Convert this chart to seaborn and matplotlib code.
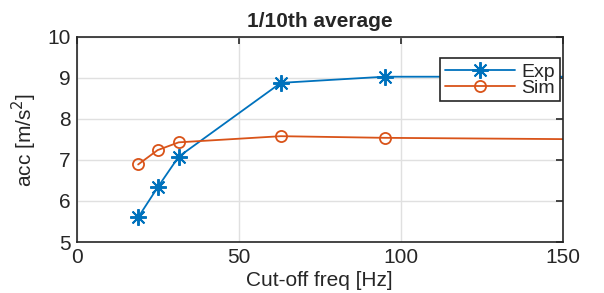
import matplotlib
matplotlib.use('Agg')
import matplotlib.pyplot as plt
import seaborn as sns

# cut-off frequencies [Hz]; last point lies beyond the visible x range
freq = [19, 25, 31.5, 63, 95, 200]
exp_acc = [5.6, 6.33, 7.08, 8.88, 9.03, 9.03]
sim_acc = [6.89, 7.24, 7.43, 7.58, 7.54, 7.48]

sns.set_style('white')
plt.rcParams['font.family'] = ['Liberation Sans', 'DejaVu Sans']
plt.rcParams['font.size'] = 15

blue = '#0072BD'
orange = '#D95319'

fig = plt.figure(figsize=(6.04, 2.93), dpi=100)
ax = fig.add_axes([0.1267, 0.174, 0.8053, 0.7])

sns.lineplot(x=freq, y=exp_acc, ax=ax, color=blue, marker=(8, 2, 0), markersize=12,
             markeredgewidth=1.4, markeredgecolor=blue, linewidth=1.3, label='Exp')
sns.lineplot(x=freq, y=sim_acc, ax=ax, color=orange, marker='o', markersize=8,
             markerfacecolor='none', markeredgecolor=orange, markeredgewidth=1.3,
             linewidth=1.3, label='Sim')

ax.set_xlim(0, 150)
ax.set_ylim(5, 10)
ax.set_xticks([0, 50, 100, 150])
ax.set_yticks([5, 6, 7, 8, 9, 10])
ax.grid(True, color='#e0e0e0', linewidth=1)
ax.set_axisbelow(True)
for s in ax.spines.values():
    s.set_color('#262626')
    s.set_linewidth(1.2)
ax.tick_params(direction='in', length=5, width=1.2, color='#262626',
               top=True, right=True, labelsize=15, pad=4)

ax.set_title('1/10th average', fontweight='bold', fontsize=15, pad=7)
ax.set_xlabel('Cut-off freq [Hz]', fontsize=15, labelpad=3)
ax.set_ylabel('acc [m/s$^2$]', fontsize=15, labelpad=6)

leg = ax.legend(loc='upper right', bbox_to_anchor=(0.993, 0.895), fontsize=14,
                frameon=True, fancybox=False, framealpha=1, edgecolor='#262626',
                borderpad=0.25, handlelength=3.6, handletextpad=0.3,
                labelspacing=-0.1, borderaxespad=0)
leg.get_frame().set_linewidth(1.2)

fig.savefig('out.png', dpi=100)
